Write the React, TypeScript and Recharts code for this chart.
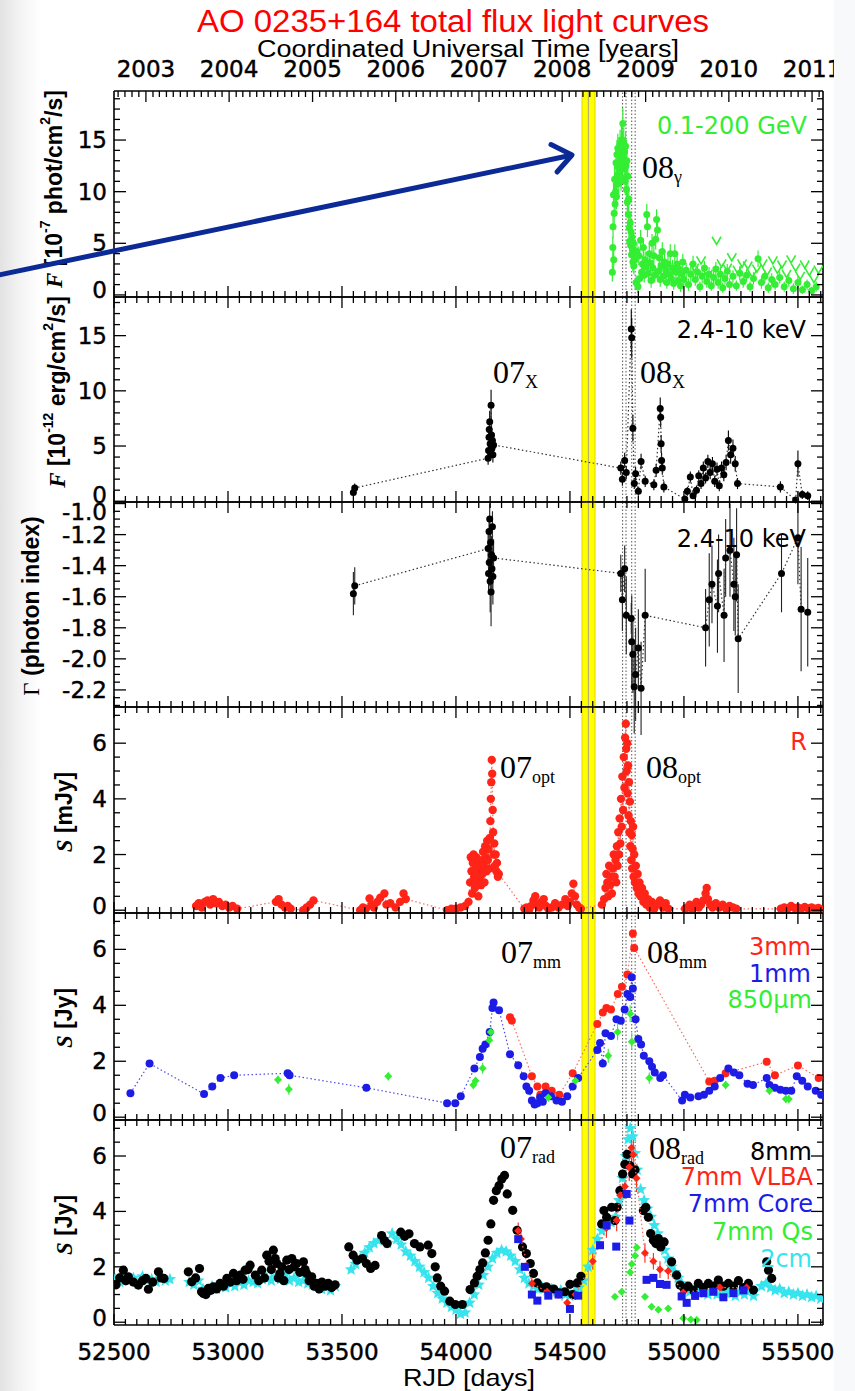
import React from "react";
import {
  ScatterChart,
  Scatter,
  XAxis,
  YAxis,
  ErrorBar,
  ReferenceArea,
  ReferenceLine,
} from "recharts";

const W = 855;
const H = 1391;
const PLOT_L = 114;
const PLOT_R = 823;
// frame edges of the six stacked panels (px)
const FRAMES = [91, 297, 502, 707, 913, 1120, 1325];
const X_DOMAIN = [52500, 55610];

const SANS = "'DejaVu Sans', 'Liberation Sans', sans-serif";
const HELV = "'Liberation Sans', Arial, sans-serif";
const SERIF = "'Liberation Serif', 'DejaVu Serif', serif";

const GREEN = "#33ee33";
const RED = "#ff2418";
const BLUE = "#1c1ce6";
const CYAN = "#36e4ee";

// ---------- data: [RJD, value, error] ----------
const gammaDet = [
  [54686, 2.2, 0.9], [54688, 4.6, 1.0], [54689, 6.6, 1.1], [54691, 9.7, 1.2], [54692, 3.4, 0.9],
  [54694, 7.9, 1.1], [54696, 11.2, 1.3], [54698, 8.8, 1.2], [54700, 10.0, 1.2], [54702, 12.8, 1.3],
  [54704, 9.5, 1.2], [54706, 13.6, 1.4], [54708, 11.6, 1.3], [54710, 14.2, 1.4], [54712, 12.4, 1.3],
  [54714, 10.8, 1.3], [54716, 13.9, 1.4], [54718, 12.0, 1.3], [54720, 14.6, 1.4], [54722, 13.2, 1.4],
  [54724, 11.4, 1.3], [54726, 15.0, 1.5], [54728, 12.6, 1.3], [54730, 14.3, 1.4], [54732, 16.6, 1.5],
  [54734, 13.5, 1.4], [54736, 14.8, 1.4], [54738, 12.2, 1.3], [54740, 13.9, 1.4], [54742, 11.0, 1.3],
  [54744, 14.4, 1.4], [54746, 12.5, 1.3], [54748, 10.2, 1.2], [54750, 13.0, 1.3], [54752, 9.0, 1.2],
  [54754, 11.5, 1.3], [54756, 7.8, 1.1], [54758, 9.3, 1.2], [54760, 6.5, 1.1], [54762, 5.2, 1.0],
  [54764, 7.0, 1.1], [54766, 4.8, 1.0], [54768, 6.1, 1.0], [54770, 3.9, 0.9], [54772, 5.6, 1.0],
  [54774, 4.4, 0.9], [54776, 3.2, 0.9], [54778, 5.0, 1.0], [54780, 2.8, 0.8], [54782, 4.1, 0.9],
  [54785, 3.4, 0.9], [54790, 1.2, 0.7], [54794, 4.2, 0.9], [54798, 0.8, 0.6], [54802, 3.8, 0.9],
  [54806, 1.6, 0.7], [54810, 5.3, 1.0], [54814, 2.2, 0.8], [54818, 3.0, 0.8], [54822, 4.6, 0.9],
  [54826, 1.9, 0.7], [54830, 3.4, 0.8], [54834, 2.7, 0.8], [54837, 7.8, 1.0], [54840, 6.6, 1.0],
  [54844, 2.1, 0.8], [54848, 4.0, 0.9], [54852, 3.1, 0.8], [54856, 1.4, 0.7], [54860, 5.0, 0.9],
  [54864, 2.6, 0.8], [54868, 3.8, 0.9], [54872, 1.9, 0.7], [54876, 5.4, 1.0], [54880, 7.3, 1.0],
  [54884, 6.3, 1.0], [54888, 2.3, 0.8], [54892, 3.6, 0.8], [54896, 1.5, 0.7], [54900, 2.8, 0.8],
  [54905, 4.2, 0.9], [54910, 1.8, 0.7], [54915, 3.2, 0.8], [54920, 2.4, 0.8], [54925, 1.2, 0.6],
  [54930, 3.0, 0.8], [54935, 2.0, 0.7], [54940, 4.0, 0.9], [54945, 1.6, 0.7], [54950, 2.6, 0.8],
  [54955, 1.1, 0.6], [54960, 4.0, 0.9], [54965, 2.2, 0.7], [54970, 3.0, 0.8], [54975, 1.4, 0.6],
  [54980, 2.5, 0.7], [54985, 0.9, 0.6], [54990, 2.0, 0.7], [54995, 3.2, 0.8], [55000, 1.5, 0.6],
  [55010, 2.4, 0.7], [55020, 1.0, 0.6], [55030, 2.0, 0.7], [55040, 3.0, 0.8], [55050, 1.5, 0.6],
  [55060, 2.2, 0.7], [55070, 0.8, 0.5], [55080, 1.8, 0.7], [55090, 2.6, 0.7], [55100, 1.3, 0.6],
  [55110, 2.0, 0.7], [55120, 0.9, 0.5], [55130, 1.7, 0.6], [55140, 2.5, 0.7], [55150, 1.2, 0.6],
  [55160, 2.0, 0.7], [55170, 0.7, 0.5], [55180, 1.6, 0.6], [55190, 2.3, 0.7], [55200, 1.0, 0.6],
  [55215, 1.8, 0.6], [55230, 0.9, 0.5], [55245, 2.1, 0.7], [55260, 1.3, 0.6], [55275, 1.9, 0.6],
  [55290, 0.8, 0.5], [55305, 1.6, 0.6], [55325, 3.5, 0.8], [55340, 1.2, 0.6], [55355, 1.8, 0.6],
  [55370, 0.7, 0.5], [55385, 1.5, 0.6], [55400, 1.0, 0.5], [55420, 1.7, 0.6], [55440, 0.8, 0.5],
  [55460, 1.4, 0.6], [55480, 0.6, 0.5], [55500, 1.2, 0.6], [55520, 0.5, 0.4], [55540, 1.0, 0.5],
  [55560, 0.4, 0.4], [55580, 0.8, 0.5],
];

// gamma upper limits (drawn as "V")
const gammaUL = [
  [55045, 2.6], [55075, 3.3], [55105, 2.0], [55143, 5.2], [55165, 3.0], [55190, 2.6], [55210, 3.6],
  [55235, 2.4], [55255, 3.0], [55280, 2.8], [55300, 2.0], [55320, 2.5], [55345, 3.0], [55365, 2.2],
  [55390, 3.3], [55410, 2.4], [55430, 2.9], [55450, 2.0], [55470, 3.4], [55490, 2.6], [55510, 1.8],
  [55530, 2.9], [55550, 2.2], [55570, 1.5], [55590, 2.4],
];

const xrayFlux = [
  [53550, 0.8, 0.3], [53556, 1.2, 0.4],
  [54141, 3.9, 0.6], [54143, 4.6, 0.7], [54145, 5.8, 0.8], [54146, 6.5, 0.9], [54148, 7.2, 1.0],
  [54150, 5.2, 0.8], [54152, 4.4, 0.7], [54154, 8.7, 1.4], [54156, 6.0, 0.9], [54158, 4.8, 0.7],
  [54160, 5.5, 0.8], [54162, 4.2, 0.7], [54165, 5.1, 0.8],
  [54723, 3.0, 0.6], [54730, 2.0, 0.6], [54740, 3.7, 0.7], [54747, 2.6, 0.6], [54769, 15.6, 1.8],
  [54771, 14.8, 1.8], [54776, 6.6, 1.2], [54782, 1.6, 0.5], [54788, 2.5, 0.6], [54800, 0.9, 0.4],
  [54812, 3.6, 0.7], [54830, 1.8, 0.5], [54868, 1.5, 0.5], [54878, 2.8, 0.6], [54896, 8.4, 1.0],
  [54898, 7.6, 0.9], [54900, 5.2, 0.8], [54902, 3.7, 0.7], [54905, 3.0, 0.6], [54912, 1.3, 0.5],
  [55004, 0.2, 0.3], [55015, 0.9, 0.4], [55028, 2.2, 0.5], [55040, 0.5, 0.3], [55055, 1.0, 0.4],
  [55065, 2.3, 0.5], [55075, 1.6, 0.5], [55085, 3.0, 0.6], [55095, 2.1, 0.5], [55105, 3.6, 0.6],
  [55115, 2.6, 0.6], [55125, 3.4, 0.6], [55135, 1.8, 0.5], [55145, 2.9, 0.6], [55155, 1.4, 0.5],
  [55165, 3.0, 0.6], [55175, 2.4, 0.6], [55185, 3.5, 0.7], [55195, 5.5, 0.9], [55205, 4.2, 0.8],
  [55215, 4.8, 0.8], [55225, 3.4, 0.7], [55235, 1.6, 0.5],
  [55423, 1.3, 0.5], [55490, 0.1, 0.3], [55500, 3.4, 1.2], [55519, 0.6, 0.4], [55543, 0.5, 0.4],
];

const xrayIndex = [
  [53550, -1.58, 0.14], [53556, -1.53, 0.12],
  [54141, -1.29, 0.1], [54143, -1.45, 0.12], [54145, -1.18, 0.1], [54146, -1.38, 0.15],
  [54148, -1.1, 0.1], [54150, -1.5, 0.2], [54152, -1.25, 0.12], [54154, -1.57, 0.22],
  [54156, -1.33, 0.12], [54158, -1.42, 0.15], [54160, -1.15, 0.1], [54162, -1.47, 0.18],
  [54165, -1.35, 0.12],
  [54723, -1.45, 0.12], [54730, -1.62, 0.2], [54740, -1.42, 0.15], [54747, -1.72, 0.25],
  [54769, -1.74, 0.1], [54771, -1.89, 0.3], [54776, -1.97, 0.25], [54782, -2.18, 0.3],
  [54788, -2.1, 0.3], [54800, -1.93, 0.25], [54812, -2.19, 0.3], [54830, -1.72, 0.3],
  [55095, -1.8, 0.25], [55111, -1.62, 0.3], [55123, -1.52, 0.25], [55147, -1.66, 0.3],
  [55152, -1.45, 0.25], [55176, -1.72, 0.3], [55183, -1.35, 0.25], [55202, -1.3, 0.3],
  [55219, -1.52, 0.3], [55225, -1.6, 0.25], [55231, -1.33, 0.3], [55238, -1.87, 0.35],
  [55428, -1.45, 0.25], [55500, -1.22, 0.3], [55514, -1.68, 0.4], [55543, -1.7, 0.35],
];

const optR = [
  [52860, 0.15], [52872, 0.25], [52885, 0.1], [52898, 0.3], [52910, 0.35], [52922, 0.2], [52935, 0.4],
  [52948, 0.25], [52960, 0.3], [52975, 0.15], [52990, 0.2], [53005, 0.1], [53020, 0.15], [53040, 0.05],
  [53210, 0.3], [53222, 0.4], [53235, 0.2], [53250, 0.1], [53262, 0.15], [53275, 0.05], [53330, 0.0],
  [53345, 0.1], [53360, 0.2], [53375, 0.35],
  [53580, 0.0], [53592, 0.1], [53605, 0.05], [53621, 0.42], [53630, 0.2], [53640, 0.1], [53655, 0.3],
  [53668, 0.45], [53686, 0.6], [53695, 0.2], [53712, 0.25], [53735, 0.1], [53755, 0.3], [53770, 0.6],
  [53780, 0.4],
  [53961, 0.0], [53980, 0.05], [54000, 0.05], [54020, 0.1], [54040, 0.15], [54055, 0.3],
  [54062, 1.0], [54065, 1.9], [54068, 1.4], [54071, 0.6], [54074, 1.7], [54077, 2.0], [54080, 1.2],
  [54083, 0.8], [54086, 1.5], [54089, 1.9], [54092, 1.0], [54095, 1.3], [54098, 0.5], [54101, 1.7],
  [54104, 1.1], [54107, 1.5], [54110, 0.9], [54113, 1.8], [54116, 1.3], [54119, 2.1], [54122, 1.6],
  [54125, 1.0], [54128, 2.3], [54131, 1.9], [54134, 1.4], [54137, 2.5], [54140, 1.8], [54143, 2.2],
  [54146, 1.5], [54149, 2.6], [54151, 3.2], [54153, 4.0], [54155, 4.6], [54157, 5.4], [54159, 4.9],
  [54161, 3.6], [54163, 2.8], [54165, 2.0], [54168, 2.4], [54171, 1.6], [54174, 2.0], [54177, 1.4],
  [54180, 1.7], [54184, 1.2], [54188, 1.3],
  [54300, 0.05], [54310, 0.1], [54320, 0.0], [54330, 0.15], [54340, 0.35], [54348, 0.5], [54355, 0.2],
  [54365, 0.1], [54375, 0.3], [54385, 0.4], [54395, 0.15], [54405, 0.05], [54420, 0.1], [54435, 0.25],
  [54450, 0.1], [54465, 0.2], [54480, 0.4], [54490, 0.15], [54500, 0.3], [54508, 0.6], [54515, 0.95],
  [54522, 0.5], [54530, 0.2], [54540, 0.1], [54548, 0.05],
  [54640, 0.2], [54650, 0.4], [54656, 0.8], [54660, 1.3], [54664, 1.0], [54668, 0.5], [54672, 1.6],
  [54676, 0.9], [54680, 1.2], [54684, 0.6], [54688, 1.5], [54692, 2.0], [54696, 1.2], [54700, 1.8],
  [54703, 1.0], [54706, 2.3], [54709, 1.6], [54712, 2.8], [54715, 2.0], [54718, 3.3], [54721, 2.4],
  [54724, 4.0], [54727, 3.0], [54730, 4.8], [54733, 3.6], [54736, 5.5], [54739, 4.4], [54742, 6.2],
  [54745, 6.7], [54747, 5.8], [54749, 5.0], [54751, 6.0], [54753, 4.2], [54755, 5.2], [54757, 3.4],
  [54759, 4.6], [54761, 2.8], [54763, 3.9], [54765, 2.3], [54767, 3.2], [54769, 1.8], [54771, 2.7],
  [54773, 1.5], [54775, 2.2], [54777, 3.0], [54779, 1.2], [54782, 2.0], [54785, 1.0], [54789, 1.6],
  [54793, 0.8], [54797, 1.3], [54801, 0.6], [54805, 1.0], [54810, 0.5], [54816, 0.8], [54822, 0.3],
  [54828, 0.6], [54835, 0.2], [54842, 0.4], [54850, 0.1], [54860, 0.3], [54870, 0.05], [54882, 0.2],
  [54895, 0.35], [54908, 0.1], [54920, 0.25], [54932, 0.05],
  [55005, 0.05], [55015, 0.1], [55025, 0.2], [55035, 0.05], [55045, 0.15], [55055, 0.3], [55065, 0.1],
  [55075, 0.2], [55085, 0.35], [55095, 0.6], [55100, 0.8], [55105, 0.4], [55115, 0.2], [55125, 0.1],
  [55140, 0.25], [55155, 0.1], [55170, 0.2], [55185, 0.05], [55200, 0.15], [55215, 0.1], [55230, 0.05],
  [55425, 0.05], [55440, 0.1], [55455, 0.05], [55470, 0.15], [55485, 0.08], [55500, 0.1], [55515, 0.05],
  [55530, 0.12], [55545, 0.06], [55560, 0.1], [55575, 0.05], [55590, 0.08], [55600, 0.03],
];

const mm3 = [
  [54237, 3.57], [54245, 3.45], [54333, 1.46], [54357, 1.1], [54370, 0.8], [54393, 1.1], [54420, 0.95],
  [54453, 0.8], [54512, 1.57], [54620, 3.33], [54644, 3.74], [54660, 3.9], [54680, 3.85], [54710, 4.4],
  [54728, 4.66], [54752, 5.1], [54776, 6.57], [54782, 6.05], [55111, 1.28], [55135, 1.3],
  [55183, 1.57], [55363, 1.98], [55399, 1.5], [55500, 1.85], [55591, 1.4],
];

const mm1 = [
  [52572, 0.86], [52656, 1.92], [52895, 0.83], [52931, 1.1], [52967, 1.4], [53027, 1.5], [53262, 1.57],
  [53270, 1.5], [53607, 1.05], [53961, 0.5], [53997, 0.5], [54021, 0.75], [54081, 1.74], [54105, 2.15],
  [54117, 2.45], [54129, 2.6], [54148, 3.05], [54160, 3.9], [54165, 4.1], [54189, 3.82], [54237, 2.25],
  [54273, 1.86], [54297, 1.46], [54309, 1.1], [54321, 0.95], [54333, 0.6], [54345, 0.45], [54357, 0.5],
  [54369, 0.7], [54381, 0.55], [54393, 0.86], [54417, 0.75], [54441, 0.6], [54465, 0.55], [54488, 0.75],
  [54512, 1.1], [54536, 1.4], [54620, 2.4], [54632, 2.65], [54644, 1.92], [54656, 3.0], [54680, 2.9],
  [54704, 3.5], [54723, 3.45], [54740, 3.85], [54752, 4.4], [54764, 4.3], [54771, 5.0], [54776, 4.6],
  [54788, 3.5], [54800, 2.8], [54812, 2.6], [54824, 2.2], [54848, 2.0], [54860, 1.8], [54872, 1.6],
  [54896, 1.4], [54908, 1.5], [54992, 0.6], [55004, 0.8], [55028, 0.7], [55064, 0.75], [55088, 0.8],
  [55111, 0.95], [55135, 1.1], [55159, 1.4], [55195, 1.74], [55219, 1.6], [55243, 1.5], [55279, 1.2],
  [55303, 1.15], [55363, 1.4], [55375, 1.15], [55399, 1.05], [55423, 0.98], [55447, 0.95], [55471, 0.95],
  [55495, 1.46], [55519, 1.3], [55543, 1.1], [55578, 0.95], [55602, 0.8],
];

const um850 = [
  [53219, 1.34, 0.15], [53267, 1.0, 0.2], [53703, 1.46, 0.15], [54076, 1.15, 0.15], [54086, 1.3, 0.15],
  [54117, 1.75, 0.2], [54146, 2.75, 0.25], [54153, 3.05, 0.25], [54405, 0.7, 0.15], [54524, 1.3, 0.2],
  [54668, 2.2, 0.25], [54709, 3.05, 0.3], [54764, 3.7, 0.3], [54771, 2.7, 0.3], [54848, 1.4, 0.2],
  [55183, 1.15, 0.15], [55375, 0.95, 0.15], [55447, 0.65, 0.15], [55460, 0.65, 0.15],
];

const rad8mm = [
  [52509, 1.35], [52525, 1.6], [52541, 1.88], [52552, 1.5], [52563, 1.64], [52585, 1.45], [52607, 1.34],
  [52625, 1.5], [52640, 1.58], [52651, 1.19], [52670, 1.45], [52695, 1.82], [52707, 1.6], [52719, 1.58],
  [52826, 1.82], [52841, 1.46], [52858, 1.6], [52875, 1.94], [52884, 1.1], [52892, 1.04], [52903, 1.0],
  [52914, 1.22], [52925, 1.15], [52936, 1.28], [52950, 1.2], [52965, 1.4], [52980, 1.3], [52995, 1.58],
  [53010, 1.45], [53024, 1.76], [53038, 1.5], [53053, 1.7], [53066, 1.55], [53075, 1.88], [53088, 1.9],
  [53097, 2.06], [53120, 1.7], [53135, 1.5], [53148, 1.88], [53160, 1.6], [53170, 2.42], [53180, 2.2],
  [53190, 1.9], [53199, 2.6], [53207, 2.3], [53214, 2.12], [53221, 1.6], [53228, 1.76], [53236, 2.0],
  [53245, 1.5], [53258, 2.24], [53268, 1.9], [53280, 2.3], [53290, 2.0], [53301, 2.12], [53315, 1.8],
  [53331, 2.18], [53338, 1.9], [53345, 1.76], [53356, 1.5], [53367, 1.64], [53378, 1.3], [53389, 1.4],
  [53400, 1.2], [53412, 1.45], [53425, 1.3], [53440, 1.4], [53455, 1.25], [53470, 1.35],
  [53530, 2.72], [53549, 2.42], [53566, 2.24], [53590, 2.3], [53607, 2.12], [53626, 1.94], [53645, 2.05],
  [53674, 3.13], [53686, 2.95], [53698, 2.84], [53758, 3.25], [53775, 3.1], [53794, 3.19], [53818, 2.84],
  [53842, 2.72], [53878, 2.78], [53894, 2.48], [53909, 2.0], [53918, 1.6], [53933, 1.3], [53950, 1.12],
  [53973, 0.76], [53997, 0.64], [54028, 0.64],
  [54062, 1.18], [54081, 1.42], [54093, 1.66], [54105, 1.9], [54117, 2.14], [54129, 2.5], [54141, 2.96],
  [54153, 3.55], [54165, 4.4], [54177, 4.75], [54189, 4.93], [54201, 5.17], [54213, 5.3], [54225, 4.63],
  [54249, 4.04], [54268, 3.32], [54292, 2.72], [54309, 2.48], [54326, 2.12], [54340, 1.76], [54357, 1.42],
  [54381, 1.24], [54397, 1.28], [54405, 1.18], [54429, 1.2], [54453, 1.06], [54478, 1.1], [54500, 1.37],
  [54512, 1.0], [54532, 1.42], [54548, 1.66],
  [54639, 3.55], [54649, 4.03], [54661, 3.79], [54683, 4.15], [54697, 3.67], [54707, 4.15], [54719, 4.75],
  [54731, 5.35], [54741, 5.7], [54751, 6.06], [54763, 5.65], [54775, 5.35], [54785, 5.5], [54822, 4.03],
  [54833, 4.15], [54844, 3.79], [54854, 3.2], [54866, 2.96], [54877, 2.84], [54888, 3.02], [54898, 2.72],
  [54913, 2.9], [54946, 2.18], [54968, 1.7], [54983, 1.34], [55000, 1.22], [55019, 1.3], [55041, 1.16],
  [55063, 1.4], [55085, 1.25], [55107, 1.4], [55129, 1.3], [55151, 1.52], [55173, 1.3], [55195, 1.4],
  [55217, 1.3], [55239, 1.5], [55261, 1.25], [55283, 1.4], [55305, 1.16], [55363, 2.18], [55371, 1.88],
  [55385, 1.58],
];

const vlba7 = [
  [54273, 3.3, 0.3], [54285, 3.0, 0.3], [54333, 1.4, 0.2], [54400, 1.1, 0.2], [54488, 0.7, 0.15],
  [54524, 1.0, 0.2], [54600, 2.2, 0.3], [54660, 3.4, 0.35], [54705, 3.68, 0.4], [54720, 4.58, 0.4],
  [54741, 4.9, 0.45], [54760, 5.6, 0.5], [54770, 6.3, 0.6], [54778, 6.05, 0.6], [54792, 5.2, 0.5],
  [54829, 2.5, 0.35], [54866, 2.2, 0.3], [54895, 1.9, 0.3], [54931, 1.85, 0.3], [54997, 1.07, 0.2],
  [55158, 1.25, 0.2], [55275, 1.25, 0.2],
];

const core7 = [
  [54273, 3.0], [54302, 2.0], [54333, 1.0], [54357, 0.78], [54405, 0.96], [54450, 1.0], [54500, 0.48],
  [54536, 0.96], [54632, 2.78], [54661, 3.5], [54703, 2.73], [54749, 4.63], [54761, 3.67], [54836, 1.53],
  [54866, 1.6], [54895, 1.38], [54924, 1.35], [54990, 0.93], [55012, 0.7], [55049, 0.95], [55085, 1.05],
  [55129, 1.1], [55173, 0.9], [55217, 1.05], [55261, 1.15],
];

const qs7 = [
  [54697, 0.92], [54727, 1.1], [54764, 1.8], [54771, 2.1], [54786, 2.4], [54793, 2.7], [54829, 0.92],
  [54858, 0.56], [54888, 0.45], [54931, 0.5], [54997, 0.14], [55030, 0.1], [55056, 0.08],
];

const cm2 = [
  [52505, 1.55], [52525, 1.45], [52545, 1.7], [52565, 1.5], [52585, 1.6], [52605, 1.4], [52625, 1.65],
  [52645, 1.5], [52665, 1.55], [52685, 1.45], [52705, 1.6], [52725, 1.5], [52745, 1.55], [52830, 1.45],
  [52850, 1.35], [52870, 1.5], [52890, 1.2], [52910, 1.15], [52930, 1.3], [52950, 1.2], [52970, 1.35],
  [52990, 1.25], [53010, 1.4], [53030, 1.3], [53050, 1.45], [53070, 1.35], [53090, 1.5], [53110, 1.45],
  [53130, 1.4], [53150, 1.55], [53170, 1.6], [53190, 1.5], [53210, 1.65], [53230, 1.55], [53250, 1.7],
  [53270, 1.5], [53290, 1.6], [53310, 1.45], [53330, 1.5], [53350, 1.4], [53370, 1.35], [53390, 1.3],
  [53410, 1.2], [53430, 1.25], [53450, 1.15], [53470, 1.3], [53540, 1.9], [53560, 2.1], [53580, 2.3],
  [53600, 2.5], [53620, 2.7], [53640, 2.85], [53660, 2.95], [53680, 3.0], [53700, 2.85], [53720, 3.2],
  [53740, 3.0], [53760, 2.8], [53780, 2.55], [53800, 2.4], [53820, 2.2], [53840, 2.0], [53860, 1.8],
  [53880, 1.6], [53900, 1.3], [53920, 1.05], [53940, 0.85], [53960, 0.7], [53980, 0.55], [54000, 0.45],
  [54020, 0.3], [54040, 0.35], [54060, 0.7], [54080, 1.0], [54100, 1.35], [54120, 1.7], [54140, 2.0],
  [54160, 2.3], [54180, 2.5], [54200, 2.6], [54220, 2.55], [54240, 2.4], [54260, 2.2], [54280, 1.9],
  [54300, 1.6], [54320, 1.4], [54340, 1.3], [54360, 1.2], [54380, 1.25], [54400, 1.15], [54420, 1.2],
  [54440, 1.1], [54460, 1.15], [54480, 1.0], [54500, 0.95], [54520, 1.1], [54540, 1.25], [54560, 1.5],
  [54580, 2.0], [54600, 2.6], [54620, 3.0], [54640, 3.3], [54660, 3.5], [54680, 3.6], [54700, 3.8],
  [54715, 4.4], [54730, 5.2], [54745, 6.0], [54755, 6.6], [54765, 7.0], [54775, 6.7], [54785, 6.1],
  [54795, 5.5], [54810, 4.8], [54825, 4.4], [54840, 4.1], [54855, 3.8], [54870, 3.5], [54885, 3.2],
  [54900, 2.9], [54915, 2.6], [54930, 2.3], [54945, 2.0], [54960, 1.8], [54975, 1.6], [54990, 1.4],
  [55005, 1.25], [55025, 1.1], [55045, 1.15], [55065, 1.05], [55085, 1.2], [55105, 1.0], [55125, 1.1],
  [55145, 1.0], [55165, 1.2], [55185, 1.05], [55205, 1.15], [55225, 0.95], [55245, 1.1], [55265, 1.0],
  [55285, 1.15], [55305, 0.95], [55340, 1.3], [55360, 1.4], [55380, 1.25], [55400, 1.15], [55420, 1.2],
  [55440, 1.05], [55460, 1.1], [55480, 1.0], [55500, 1.05], [55520, 0.95], [55540, 1.0], [55560, 0.9],
  [55580, 0.95], [55600, 0.85],
];

// ---------- axis ticks ----------
const rjdMajors = [52500, 53000, 53500, 54000, 54500, 55000, 55500];
const rjdTicks: number[] = [];
for (let d = 52500; d <= 55600; d += 50) rjdTicks.push(d);

const yearLabels = ["2003", "2004", "2005", "2006", "2007", "2008", "2009", "2010", "2011"];
const toRjd = (y: number, m: number) => Date.UTC(y, m, 1) / 86400000 + 40587;
const yearTicks = yearLabels.map((y) => toRjd(Number(y), 0));
const monthTicks: number[] = [];
for (let y = 2002; y <= 2011; y++)
  for (let m = 0; m < 12; m++) {
    const d = toRjd(y, m);
    if (d >= X_DOMAIN[0] && d <= X_DOMAIN[1]) monthTicks.push(d);
  }

// epochs of the vertical markers
const bandX = [54553, 54610];
const bandMid = 54581;
const dottedEpochs = [54731, 54746, 54771, 54786];

const panelCfg = [
  { domain: [-0.2, 19.75], majors: [0, 5, 10, 15], step: 1, fmt: (v: number) => String(v) },
  { domain: [-0.07, 18.5], majors: [0, 5, 10, 15], step: 1, fmt: (v: number) => String(v) },
  { domain: [-2.31, -0.99], majors: [-2.2, -2.0, -1.8, -1.6, -1.4, -1.2, -1.0], step: 0.05, fmt: (v: number) => v.toFixed(1) },
  { domain: [-0.1, 7.3], majors: [0, 2, 4, 6], step: 0.5, fmt: (v: number) => String(v) },
  { domain: [-0.1, 7.3], majors: [0, 2, 4, 6], step: 0.5, fmt: (v: number) => String(v) },
  { domain: [-0.1, 7.3], majors: [0, 2, 4, 6], step: 0.5, fmt: (v: number) => String(v) },
];

const pts = (rows: number[][]) => rows.map((r) => ({ x: r[0], y: r[1], e: r[2] }));

const isMajor = (list: number[], v: number) => list.some((m) => Math.abs(m - v) < 1e-6);

const tickText = {
  fontFamily: SANS,
  fontSize: 23,
  fill: "#000",
  stroke: "#000",
  strokeWidth: 0.45,
};

// top/bottom are the plot edges in the chart's own coordinates
function yTick(side: string, cfg: any, top: number, bottom: number) {
  return (p: any) => {
    const v = p.payload.value;
    const major = isMajor(cfg.majors, v);
    const len = major ? 12 : 6;
    const dx = side === "left" ? len : -len;
    let ly = p.y;
    if (ly > bottom - 7) ly = bottom - 7;
    if (ly < top + 10) ly = top + 10;
    return (
      <g>
        <line x1={p.x} x2={p.x + dx} y1={p.y} y2={p.y} stroke="#000" strokeWidth={1.3} />
        {side === "left" && major ? (
          <text x={p.x - 7} y={ly} textAnchor="end" dominantBaseline="central" {...tickText}>
            {cfg.fmt(v)}
          </text>
        ) : null}
      </g>
    );
  };
}

function xTick(side: string, majors: number[], label: ((v: number) => string) | null) {
  return (p: any) => {
    const v = p.payload.value;
    const major = isMajor(majors, v);
    const len = major ? 11 : 6;
    const dy = side === "bottom" ? -len : len;
    const lab = label && major ? label(v) : null;
    return (
      <g>
        <line x1={p.x} x2={p.x} y1={p.y} y2={p.y + dy} stroke="#000" strokeWidth={1.3} />
        {lab ? (
          <text x={p.x} y={side === "bottom" ? p.y + 35 : p.y - 14} textAnchor="middle" {...tickText}>
            {lab}
          </text>
        ) : null}
      </g>
    );
  };
}

function minorTicks(domain: number[], step: number) {
  const out: number[] = [];
  for (let k = Math.ceil(domain[0] / step - 1e-9); k * step <= domain[1] + 1e-9; k++)
    out.push(Math.round(k * step * 1000) / 1000);
  return out;
}

// ---------- marker shapes ----------
const dot = (r: number, fill: string) => (p: any) => <circle cx={p.cx} cy={p.cy} r={r} fill={fill} />;
const square = (s: number, fill: string) => (p: any) => (
  <rect x={p.cx - s / 2} y={p.cy - s / 2} width={s} height={s} fill={fill} />
);
const diamond = (s: number, fill: string) => (p: any) => (
  <path d={`M${p.cx} ${p.cy - s}L${p.cx + s} ${p.cy}L${p.cx} ${p.cy + s}L${p.cx - s} ${p.cy}Z`} fill={fill} />
);
const vee = (s: number, stroke: string) => (p: any) => (
  <path
    d={`M${p.cx - s} ${p.cy - s}L${p.cx} ${p.cy + s * 0.7}L${p.cx + s} ${p.cy - s}`}
    fill="none"
    stroke={stroke}
    strokeWidth={1.6}
  />
);
const star = (r: number, fill: string) => (p: any) => {
  const pp: string[] = [];
  for (let i = 0; i < 10; i++) {
    const a = -Math.PI / 2 + (i * Math.PI) / 5;
    const rr = i % 2 === 0 ? r : r * 0.45;
    pp.push(`${p.cx + rr * Math.cos(a)},${p.cy + rr * Math.sin(a)}`);
  }
  return <polygon points={pp.join(" ")} fill={fill} />;
};

const frameLine = { stroke: "#000", strokeWidth: 1.6 };
const AX = { xAxisId: "b", yAxisId: "l" };

function Panel({ idx, yearsOnTop, children }: any) {
  const cfg = panelCfg[idx];
  const top = FRAMES[idx];
  const bottom = FRAMES[idx + 1];
  const pad = 44;
  const ph = bottom - top;
  const h = ph + 2 * pad;
  const isLast = idx === panelCfg.length - 1;
  const yTicks = minorTicks(cfg.domain, cfg.step);
  return (
    <div style={{ position: "absolute", left: 0, top: top - pad, width: W, height: h }}>
      <ScatterChart
        width={W}
        height={h}
        margin={{ top: pad - 2, bottom: pad - 2, left: PLOT_L - 60, right: W - PLOT_R - 10 }}
      >
        <XAxis
          xAxisId="b"
          orientation="bottom"
          type="number"
          dataKey="x"
          domain={X_DOMAIN}
          allowDataOverflow
          ticks={rjdTicks}
          interval={0}
          height={2}
          tickLine={false}
          tickSize={0}
          tickMargin={0}
          axisLine={frameLine}
          tick={xTick("bottom", rjdMajors, isLast ? (v) => String(v) : null)}
        />
        <XAxis
          xAxisId="t"
          orientation="top"
          type="number"
          dataKey="x"
          domain={X_DOMAIN}
          allowDataOverflow
          ticks={yearsOnTop ? monthTicks : rjdTicks}
          interval={0}
          height={2}
          tickLine={false}
          tickSize={0}
          tickMargin={0}
          axisLine={frameLine}
          tick={
            yearsOnTop
              ? xTick("top", yearTicks, (v) => yearLabels[yearTicks.indexOf(v)])
              : xTick("top", rjdMajors, null)
          }
        />
        <YAxis
          yAxisId="l"
          type="number"
          dataKey="y"
          domain={cfg.domain}
          allowDataOverflow
          ticks={yTicks}
          interval={0}
          width={60}
          tickLine={false}
          tickSize={0}
          tickMargin={0}
          axisLine={frameLine}
          tick={yTick("left", cfg, pad, pad + ph)}
        />
        <YAxis
          yAxisId="r"
          orientation="right"
          type="number"
          dataKey="y"
          domain={cfg.domain}
          allowDataOverflow
          ticks={yTicks}
          interval={0}
          width={10}
          tickLine={false}
          tickSize={0}
          tickMargin={0}
          axisLine={frameLine}
          tick={yTick("right", cfg, pad, pad + ph)}
        />
        <ReferenceArea {...AX} x1={bandX[0]} x2={bandX[1]} fill="#ffff00" fillOpacity={1} stroke="#e4d600" strokeWidth={1} />
        <ReferenceLine {...AX} x={bandMid} stroke="#b8b070" strokeWidth={1.2} />
        {dottedEpochs.map((d) => (
          <ReferenceLine key={d} {...AX} x={d} stroke="#555" strokeWidth={1} strokeDasharray="1.5 2" />
        ))}
        {children}
      </ScatterChart>
    </div>
  );
}

const dotted = (c: string) => ({ stroke: c, strokeDasharray: "1.5 2.5", strokeWidth: 1.2 });

function YTitle({ x, y, children }: any) {
  return (
    <text
      transform={`translate(${x},${y}) rotate(-90)`}
      textAnchor="middle"
      dominantBaseline="central"
      fontFamily={HELV}
      fontWeight="bold"
      fontSize={23}
      fill="#000"
    >
      {children}
    </text>
  );
}

const bigF = (
  <tspan fontFamily={SERIF} fontStyle="italic" fontWeight="bold">
    F
  </tspan>
);
const bigS = (
  <tspan fontFamily={SERIF} fontStyle="italic" fontWeight="bold">
    S
  </tspan>
);

function Note({ x, y, main, sub }: any) {
  return (
    <text x={x} y={y} fontFamily={SERIF} fontSize={32} fill="#000">
      {main}
      <tspan fontSize={18} dy={5}>
        {sub}
      </tspan>
    </text>
  );
}

function Label({ x, y, color, text }: any) {
  return (
    <text x={x} y={y} textAnchor="end" fontFamily={SANS} fontSize={24} fill={color}>
      {text}
    </text>
  );
}

export default function App() {
  return (
    <div style={{ position: "absolute", left: 0, top: 0, width: W, height: H, background: "#fff", overflow: "hidden" }}>
      <div
        style={{
          position: "absolute",
          left: 0,
          top: 0,
          width: 40,
          height: H,
          background: "linear-gradient(to right, #e2e2e2, #f2f2f2 45%, rgba(255,255,255,0))",
        }}
      />

      <Panel idx={0} yearsOnTop>
        <Scatter {...AX} data={pts(gammaUL)} shape={vee(4.5, GREEN)} isAnimationActive={false} />
        <Scatter {...AX} data={pts(gammaDet)} shape={dot(3.5, GREEN)} isAnimationActive={false}>
          <ErrorBar dataKey="e" direction="y" width={0} stroke={GREEN} strokeWidth={1.2} isAnimationActive={false} />
        </Scatter>
      </Panel>

      <Panel idx={1}>
        <Scatter {...AX} data={pts(xrayFlux)} shape={dot(3.5, "#000")} line={dotted("#333")} lineType="joint" isAnimationActive={false}>
          <ErrorBar dataKey="e" direction="y" width={0} stroke="#000" strokeWidth={1.1} isAnimationActive={false} />
        </Scatter>
      </Panel>

      <Panel idx={2}>
        <Scatter {...AX} data={pts(xrayIndex)} shape={dot(3.5, "#000")} line={dotted("#333")} lineType="joint" isAnimationActive={false}>
          <ErrorBar dataKey="e" direction="y" width={0} stroke="#222" strokeWidth={1.1} isAnimationActive={false} />
        </Scatter>
      </Panel>

      <Panel idx={3}>
        <Scatter {...AX} data={pts(optR)} shape={dot(4.2, RED)} line={dotted("#ff6a60")} lineType="joint" isAnimationActive={false} />
      </Panel>

      <Panel idx={4}>
        <Scatter {...AX} data={pts(mm3)} shape={dot(4, RED)} line={dotted("#ff6a60")} lineType="joint" isAnimationActive={false} />
        <Scatter {...AX} data={pts(mm1)} shape={dot(4, BLUE)} line={dotted("#4a4af0")} lineType="joint" isAnimationActive={false} />
        <Scatter {...AX} data={pts(um850)} shape={diamond(4, GREEN)} isAnimationActive={false}>
          <ErrorBar dataKey="e" direction="y" width={0} stroke={GREEN} strokeWidth={1.1} isAnimationActive={false} />
        </Scatter>
      </Panel>

      <Panel idx={5}>
        <Scatter {...AX} data={pts(cm2)} shape={star(6.5, CYAN)} isAnimationActive={false} />
        <Scatter {...AX} data={pts(rad8mm)} shape={dot(4.6, "#000")} isAnimationActive={false} />
        <Scatter {...AX} data={pts(vlba7)} shape={diamond(4, RED)} line={dotted("#ff6a60")} lineType="joint" isAnimationActive={false}>
          <ErrorBar dataKey="e" direction="y" width={0} stroke={RED} strokeWidth={1.1} isAnimationActive={false} />
        </Scatter>
        <Scatter {...AX} data={pts(core7)} shape={square(8, BLUE)} isAnimationActive={false} />
        <Scatter {...AX} data={pts(qs7)} shape={diamond(4, GREEN)} isAnimationActive={false} />
      </Panel>

      <svg width={W} height={H} style={{ position: "absolute", left: 0, top: 0, pointerEvents: "none" }}>
        <text x={453} y={32} textAnchor="middle" fontFamily={HELV} fontSize={31} fill="#ff0000" textLength={512} lengthAdjust="spacingAndGlyphs">
          AO 0235+164 total flux light curves
        </text>
        <text x={468} y={57} textAnchor="middle" fontFamily={HELV} fontSize={23} fill="#000" textLength={422} lengthAdjust="spacingAndGlyphs">
          Coordinated Universal Time [years]
        </text>
        <text x={469} y={1386} textAnchor="middle" fontFamily={HELV} fontSize={24} fill="#000" textLength={132} lengthAdjust="spacingAndGlyphs">
          RJD [days]
        </text>

        <YTitle x={54} y={189}>
          {bigF} [10<tspan fontSize={14} dy={-9}>-7</tspan>
          <tspan dy={9}> phot/cm</tspan>
          <tspan fontSize={14} dy={-9}>2</tspan>
          <tspan dy={9}>/s]</tspan>
        </YTitle>
        <YTitle x={57} y={392}>
          {bigF} [10<tspan fontSize={14} dy={-9}>-12</tspan>
          <tspan dy={9}> erg/cm</tspan>
          <tspan fontSize={14} dy={-9}>2</tspan>
          <tspan dy={9}>/s]</tspan>
        </YTitle>
        <YTitle x={31} y={606}>
          <tspan fontFamily={SERIF} fontWeight="normal">Γ</tspan> (photon index)
        </YTitle>
        <YTitle x={64} y={812}>
          {bigS} [mJy]
        </YTitle>
        <YTitle x={64} y={1018}>
          {bigS} [Jy]
        </YTitle>
        <YTitle x={64} y={1225}>
          {bigS} [Jy]
        </YTitle>

        <Label x={807} y={134} color={GREEN} text="0.1-200 GeV" />
        <Label x={806} y={338} color="#000" text="2.4-10 keV" />
        <Label x={806} y={547} color="#000" text="2.4-10 keV" />
        <Label x={807} y={750} color={RED} text="R" />
        <Label x={811} y={955} color={RED} text="3mm" />
        <Label x={811} y={982} color={BLUE} text="1mm" />
        <Label x={812} y={1008} color={GREEN} text="850µm" />
        <Label x={812} y={1160} color="#000" text="8mm" />
        <Label x={813} y={1185} color={RED} text="7mm VLBA" />
        <Label x={813} y={1212} color={BLUE} text="7mm Core" />
        <Label x={813} y={1240} color={GREEN} text="7mm Qs" />
        <Label x={812} y={1267} color={CYAN} text="2cm" />

        <Note x={642} y={178} main="08" sub="γ" />
        <Note x={493} y={383} main="07" sub="X" />
        <Note x={640} y={383} main="08" sub="X" />
        <Note x={500} y={778} main="07" sub="opt" />
        <Note x={646} y={778} main="08" sub="opt" />
        <Note x={501} y={963} main="07" sub="mm" />
        <Note x={647} y={963} main="08" sub="mm" />
        <Note x={500} y={1158} main="07" sub="rad" />
        <Note x={649} y={1159} main="08" sub="rad" />

        <path d="M-6 276 L570 155.5" stroke="#0c2a96" strokeWidth={5} fill="none" strokeLinecap="round" />
        <path d="M551 144.5 L572 155 L557 172" stroke="#0c2a96" strokeWidth={5} fill="none" strokeLinecap="round" strokeLinejoin="round" />
      </svg>

      <div style={{ position: "absolute", left: 834, top: 0, width: W - 834, height: H, background: "#f7f9fa" }} />
    </div>
  );
}
